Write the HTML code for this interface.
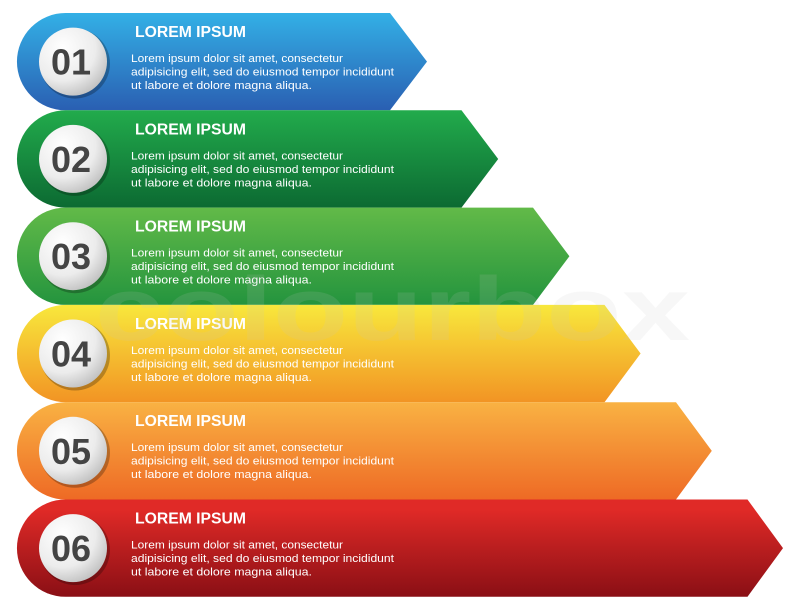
<!DOCTYPE html>
<html><head><style>
html,body{margin:0;padding:0;background:#fff;}
svg{display:block;}
text{font-family:"Liberation Sans",sans-serif;}
</style></head><body>
<svg width="800" height="610" viewBox="0 0 800 610" xmlns="http://www.w3.org/2000/svg">
<defs>
<linearGradient id="g0" x1="0" y1="0" x2="0" y2="1"><stop offset="0" stop-color="#33b0e6"/><stop offset="1" stop-color="#2a5fb2"/></linearGradient>
<linearGradient id="g1" x1="0" y1="0" x2="0" y2="1"><stop offset="0" stop-color="#22ab4c"/><stop offset="1" stop-color="#0c6a32"/></linearGradient>
<linearGradient id="g2" x1="0" y1="0" x2="0" y2="1"><stop offset="0" stop-color="#62ba48"/><stop offset="1" stop-color="#24943e"/></linearGradient>
<linearGradient id="g3" x1="0" y1="0" x2="0" y2="1"><stop offset="0" stop-color="#f8e83c"/><stop offset="1" stop-color="#f29424"/></linearGradient>
<linearGradient id="g4" x1="0" y1="0" x2="0" y2="1"><stop offset="0" stop-color="#f9b243"/><stop offset="1" stop-color="#ee6a25"/></linearGradient>
<linearGradient id="g5" x1="0" y1="0" x2="0" y2="1"><stop offset="0.1" stop-color="#e02a27"/><stop offset="1" stop-color="#8a0f15"/></linearGradient>
<radialGradient id="c" cx="0.35" cy="0.3" r="0.8"><stop offset="0" stop-color="#ffffff"/><stop offset="0.6" stop-color="#ececec"/><stop offset="1" stop-color="#b9b9b9"/></radialGradient>
</defs>
<g id="bars"></g>
</svg>
<script>
var g=document.getElementById('bars');
var s='';
for(var i=0;i<6;i++){
 var t=13+97.3*i,b=t+97.3,m=(t+b)/2,st=390+71.5*i,tip=427+71.2*i,r=48.6,x0=17;
 s+='<path d="M'+(x0+r)+' '+t+' L'+st+' '+t+' L'+tip+' '+m+' L'+st+' '+b+' L'+(x0+r)+' '+b+' A'+r+' '+r+' 0 0 1 '+(x0+r)+' '+t+' Z" fill="url(#g'+i+')"/>';
}
for(var i=0;i<6;i++){
 var t=13+97.3*i,m=t+48.6;
 var n='0'+(i+1);
 s+='<circle cx="75" cy="'+(m+2)+'" r="35" fill="rgba(0,0,0,0.25)"/>';
 s+='<circle cx="73" cy="'+m+'" r="34" fill="url(#c)"/>';
 s+='<text x="71" y="'+(m+13)+'" text-anchor="middle" font-size="36" font-weight="bold" fill="#444">'+n+'</text>';
 s+='<text x="135" y="'+(t+24)+'" font-size="15.5" font-weight="bold" fill="#fff" textLength="111" lengthAdjust="spacingAndGlyphs">LOREM IPSUM</text>';
 s+='<text x="131" y="'+(t+49)+'" font-size="11" fill="#fff" textLength="212" lengthAdjust="spacingAndGlyphs">Lorem ipsum dolor sit amet, consectetur</text>';
 s+='<text x="131" y="'+(t+62.5)+'" font-size="11" fill="#fff" textLength="263" lengthAdjust="spacingAndGlyphs">adipisicing elit, sed do eiusmod tempor incididunt</text>';
 s+='<text x="131" y="'+(t+76)+'" font-size="11" fill="#fff" textLength="181" lengthAdjust="spacingAndGlyphs">ut labore et dolore magna aliqua.</text>';
}
s+='<text x="95" y="340" font-size="90" font-weight="bold" fill="rgba(200,200,200,0.14)" textLength="595" lengthAdjust="spacingAndGlyphs">colourbox</text>';
g.innerHTML=s;
</script>
</body></html>
